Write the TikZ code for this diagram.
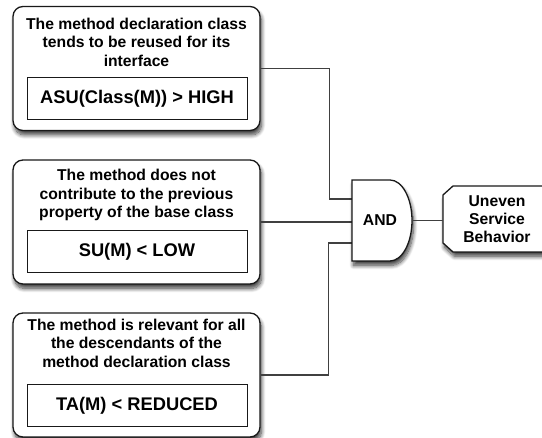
\documentclass[tikz,border=0pt]{standalone}
\usepackage{fontspec}
\setmainfont{Liberation Sans}
\usetikzlibrary{shadows.blur}

\begin{document}
\begin{tikzpicture}[x=1pt,y=1pt,
  softshadow/.style={blur shadow={shadow xshift=1.5pt,shadow yshift=-4.5pt,
      shadow blur radius=4pt,shadow blur steps=10,shadow opacity=75}},
  cond/.style={draw=black!90,line width=1.3pt,rounded corners=10pt,fill=white,
      minimum width=247pt,minimum height=124pt,inner sep=0pt,softshadow},
  metric/.style={draw=black!90,line width=1pt,minimum width=220pt,minimum height=42pt,
      inner sep=0pt,font=\fontsize{18.3}{21}\selectfont\bfseries},
  desc/.style={align=center,inner sep=0pt,font=\fontsize{15.7}{18.5}\selectfont\bfseries},
  gate/.style={draw=black!90,line width=1.3pt,fill=white,softshadow},
  label/.style={align=center,inner sep=0pt,font=\fontsize{15.7}{18}\selectfont\bfseries},
  wire/.style={draw=black!75,line width=1.1pt}]

\useasboundingbox (0,0) rectangle (542,438);

% the three conditions
\node[cond] (c1) at (136.5,369.5) {};
\node[desc] (t1) at (136.5,396) {The method declaration class\\tends to be reused for its\\interface};
\node[metric] (m1) at (137,339.5) {ASU(Class(M)) > HIGH};

\node[cond] (c2) at (136.5,216) {};
\node[desc] (t2) at (136.5,243) {The method does not\\contribute to the previous\\property of the base class};
\node[metric] (m2) at (137,186) {SU(M) < LOW};

\node[cond] (c3) at (136.5,63) {};
\node[desc] (t3) at (136.5,95) {The method is relevant for all\\the descendants of the\\method declaration class};
\node[metric] (m3) at (137,32.5) {TA(M) < REDUCED};

% AND gate
\coordinate (a1) at (352,239);
\coordinate (a2) at (352,216);
\coordinate (a3) at (352,195);
\coordinate (ao) at (412,217.5);

\draw[wire] (c1.east) -- ++(69,0) |- (a1);
\draw[wire] (c2.east) -- (a2);
\draw[wire] (c3.east) -- ++(68,0) |- (a3);

\path[gate] (352,258) -- (390,258) arc[start angle=90,end angle=-90,x radius=22,y radius=40.5]
  -- (352,177) -- cycle;
\node[label] (and) at (380,217.5) {AND};

% outcome box, chamfered on its left side
\path[gate] (453,252) -- (552,252) -- (552,186) -- (453,186) -- (443,195)
  -- (443,243) -- cycle;
\coordinate (outw) at (443,217.5);
\node[label] (out) at (497,219) {Uneven\\Service\\Behavior};
\draw[wire] (ao) -- (outw);

\end{tikzpicture}
\end{document}
